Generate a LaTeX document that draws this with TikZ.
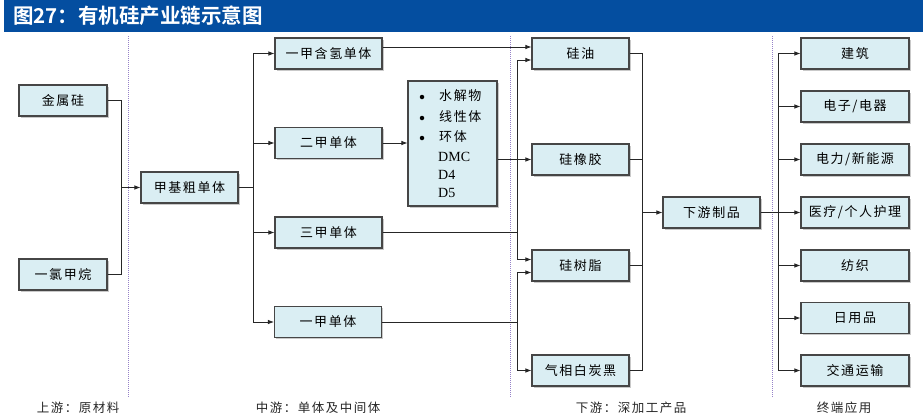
\documentclass[tikz,border=0pt]{standalone}
\usepackage{fontspec}
\setmainfont{Liberation Serif}
\newfontfamily\cjk{Noto Sans CJK SC}
\newfontfamily\cjks[LetterSpace=12]{Noto Sans CJK SC}
\newfontfamily\cjkb{Noto Sans CJK SC Bold}
\usetikzlibrary{arrows.meta,shadows}
\definecolor{barblue}{RGB}{4,78,160}
\definecolor{boxfill}{RGB}{218,238,243}
\definecolor{boxline}{RGB}{70,70,70}
\definecolor{sepline}{RGB}{150,130,200}
\begin{document}
\begin{tikzpicture}[x=1pt,y=-1pt,
  box/.style={draw=boxline,line width=1.1pt,fill=boxfill,minimum height=31pt,inner sep=0pt,
    font=\cjks\fontsize{13}{15}\selectfont,
    drop shadow={shadow xshift=1.6pt,shadow yshift=-1.6pt,opacity=0.35,fill=black!60}},
  conn/.style={draw=black!85,line width=0.8pt},
  arr/.style={conn,-{Latex[length=6pt,width=4.5pt]}},
  sep/.style={draw=sepline,line width=0.7pt,dash pattern=on 1pt off 1pt},
  item/.style={anchor=west,font=\cjks\fontsize{13}{15}\selectfont,inner sep=0pt},
  dot/.style={circle,fill=black,inner sep=0pt,minimum size=4.5pt},
  latin/.style={anchor=west,font=\fontsize{14}{16}\selectfont,inner sep=0pt},
  lab/.style={font=\cjks\fontsize{12.5}{14}\selectfont,text=black!85}]
\useasboundingbox (0,0) rectangle (923,418);
\fill[white] (0,0) rectangle (923,418);
% title bar
\fill[barblue] (4,0) rectangle (923,32);
\node[anchor=west,text=white,font=\cjkb\fontsize{20.5}{22}\selectfont,inner sep=0pt] (title) at (13,16) {图27：有机硅产业链示意图};
% separators
\coordinate (s1a) at (128,36); \coordinate (s1b) at (128,398);
\coordinate (s2a) at (510,36); \coordinate (s2b) at (510,398);
\coordinate (s3a) at (772,36); \coordinate (s3b) at (772,398);
\draw[sep] (s1a) -- (s1b);
\draw[sep] (s2a) -- (s2b);
\draw[sep] (s3a) -- (s3b);
% upstream
\node[box,minimum width=88pt] (jin) at (63,100.5) {金属硅};
\node[box,minimum width=88pt] (yilv) at (63,274.5) {一氯甲烷};
\node[box,minimum width=97pt] (jiaji) at (189.5,187.5) {甲基粗单体};
% midstream
\node[box,minimum width=107pt] (yjhq) at (328.5,53.5) {一甲含氢单体};
\node[box,minimum width=107pt] (erjia) at (328.5,143) {二甲单体};
\node[box,minimum width=107pt] (sanjia) at (328.5,232.5) {三甲单体};
\node[box,minimum width=107pt] (yijia) at (328,322) {一甲单体};
\node[box,minimum width=89pt,minimum height=125pt] (list) at (452.5,143.5) {};
\node[item] (l1) at (439,96) {水解物};
\node[item] (l2) at (439,117) {线性体};
\node[item] (l3) at (439,137) {环体};
\node[dot] (b1) at (422,97) {};
\node[dot] (b2) at (422,118) {};
\node[dot] (b3) at (422,138) {};
\node[latin] (l4) at (438,156.5) {DMC};
\node[latin] (l5) at (438,174.5) {D4};
\node[latin] (l6) at (438,192.5) {D5};
% downstream
\node[box,minimum width=97pt] (guiyou) at (580.5,53.5) {硅油};
\node[box,minimum width=97pt] (xjj) at (580.5,159.5) {硅橡胶};
\node[box,minimum width=97pt] (gsz) at (580.5,265.5) {硅树脂};
\node[box,minimum width=97pt] (qx) at (580.5,370.5) {气相白炭黑};
\node[box,minimum width=97pt] (xy) at (711.5,212.5) {下游制品};
% end applications
\node[box,minimum width=108pt] (r1) at (855,53.5) {建筑};
\node[box,minimum width=108pt] (r2) at (855,106.5) {电子/电器};
\node[box,minimum width=108pt] (r3) at (855,159.5) {电力/新能源};
\node[box,minimum width=108pt] (r4) at (855,212.5) {医疗/个人护理};
\node[box,minimum width=108pt] (r5) at (855,265.5) {纺织};
\node[box,minimum width=108pt] (r6) at (855,318) {日用品};
\node[box,minimum width=108pt] (r7) at (855,370.5) {交通运输};
% connectors upstream
\coordinate (j1) at (121,187.5);
\draw[conn] (jin.east) -| (j1);
\draw[conn] (yilv.east) -| (j1);
\draw[arr] (j1) -- (jiaji.west);
\coordinate (k1) at (253,187.5);
\draw[conn] (jiaji.east) -- (k1);
\draw[arr] (k1) |- (yjhq.west);
\draw[arr] (k1) |- (erjia.west);
\draw[arr] (k1) |- (sanjia.west);
\draw[arr] (k1) |- (yijia.west);
% midstream to downstream
\draw[arr] ([yshift=6.5pt]yjhq.east) -- ([yshift=6.5pt]guiyou.west);
\draw[arr] (erjia.east) -- (list.west |- erjia.east);
\draw[arr] (list.east |- xjj.west) -- (xjj.west);
\coordinate (c1) at (517,232.5);
\draw[conn] (sanjia.east) -- (c1);
\draw[arr] (c1) |- ([yshift=-6.5pt]guiyou.west);
\draw[arr] (c1) |- ([yshift=6pt]gsz.west);
\coordinate (c2) at (517,322);
\draw[conn] (yijia.east) -- (c2);
\draw[arr] (c2) |- ([yshift=-7pt]gsz.west);
\draw[arr] (c2) |- (qx.west);
% downstream merge
\coordinate (d1) at (642,212.5);
\draw[conn] (guiyou.east) -| (d1);
\draw[conn] (xjj.east) -| (d1);
\draw[conn] (gsz.east) -| (d1);
\draw[conn] (qx.east) -| (d1);
\draw[arr] (d1) -- (xy.west);
% to applications
\coordinate (e1) at (778,212.5);
\draw[conn] (xy.east) -- (e1);
\foreach \r in {r1,r2,r3,r4,r5,r6,r7} \draw[arr] (e1) |- (\r.west);
% bottom labels
\node[lab] (t1) at (78,408) {上游：原材料};
\node[lab] (t2) at (318,408) {中游：单体及中间体};
\node[lab] (t3) at (631,408) {下游：深加工产品};
\node[lab] (t4) at (844,408) {终端应用};
\end{tikzpicture}
\end{document}
